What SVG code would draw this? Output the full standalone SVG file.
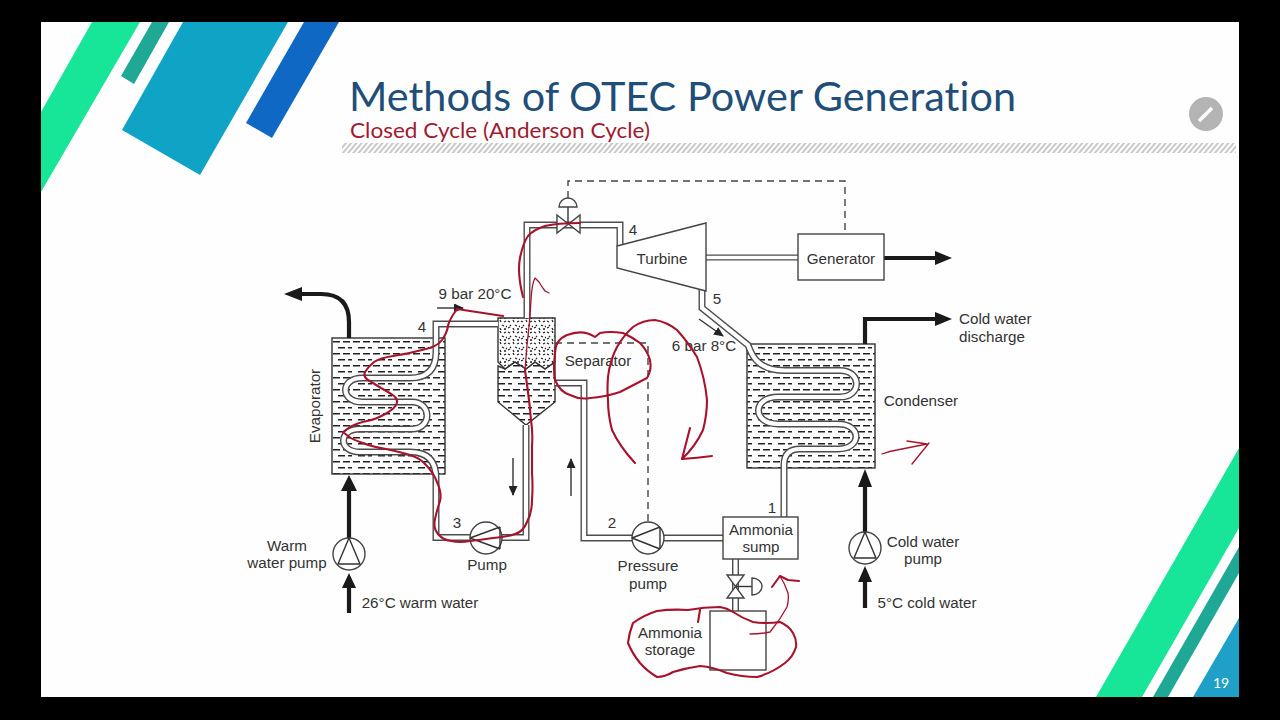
<svg xmlns="http://www.w3.org/2000/svg" width="1280" height="720" viewBox="0 0 1280 720">
<style>
text{font-family:"Liberation Sans",Arial,sans-serif;font-size:15.2px;fill:#333;text-anchor:middle;dominant-baseline:central}
.l{text-anchor:start}
.box{fill:#fff;stroke:#444;stroke-width:1.4}
.line{fill:none;stroke:#333;stroke-width:1.4}
.tank{fill:url(#water);stroke:#333;stroke-width:1.4}
.po{fill:none;stroke:#4d4d4d;stroke-width:7}
.pi{fill:none;stroke:#fff;stroke-width:4.2}
.thick{fill:none;stroke:#1a1a1a;stroke-width:4.2}
.head{fill:#1a1a1a;stroke:none}
.dash{fill:none;stroke:#444;stroke-width:1.4;stroke-dasharray:7 5}
.red{fill:none;stroke:#a8132c;stroke-width:2.1;stroke-linecap:round;stroke-linejoin:round}
.thin{stroke-width:1.3}
.ttl{dominant-baseline:alphabetic;font-family:Lato,'Open Sans',sans-serif;font-variant-ligatures:none}
</style>
<defs>
<pattern id="water" width="20" height="12" patternUnits="userSpaceOnUse" x="332" y="341">
<path d="M1 0.7h7M11 0.7h7M-4 6.7h3M6 6.7h7M16 6.7h7" stroke="#222" stroke-width="1.5" fill="none"/>
</pattern>
<pattern id="stipple" width="13" height="11" patternUnits="userSpaceOnUse">
<path d="M1 2l2 1M6 1l1 2M10 3l2-1M3 6l1 1M8 6l2 1M12 7l1 1M1 9l2-1M6 9l1 2M10 10l2 0" stroke="#222" stroke-width="1.3" fill="none"/>
</pattern>
<pattern id="hatch" width="4" height="4" patternUnits="userSpaceOnUse" patternTransform="rotate(40)">
<rect width="2" height="4" fill="#c9c9c9"/>
</pattern>
<marker id="ah" markerWidth="10" markerHeight="9" refX="9" refY="4.500" orient="auto" markerUnits="userSpaceOnUse"><path d="M0 0L10 4.500L0 9z" fill="#222"/></marker>
<path id="p-evap" d="M498 324H436V352Q436 378 410 378H362C340 378 340 402 362 402H412C432 402 432 429 412 429H360C338 429 338 452 360 452H410Q436 452 436 478V537.500H470"/>
<path id="p-sep-pump" d="M502 537.500H526V425"/>
<path id="p-sep-turb" d="M527 318V225H620V246"/>
<path id="p-turb-cond" d="M702 290V308L748 345C751 352 755 370.500 785 370.500H840C862 370.500 862 397 840 397H778C752 397 752 424 778 424H838C862 424 862 449 838 449H800Q784 449 784 465V517"/>
<path id="p-sep-press" d="M555 383H584V538H632"/>
<path id="p-press-sump" d="M664 538H723"/>
<path id="p-sump-stor" d="M735.500 559V611"/>
<path id="p-shaft" d="M706 257.500H798"/>
</defs>

<rect width="1280" height="720" fill="#000"/>
<rect x="41" y="22" width="1198" height="675" fill="#fefefe"/>

<g id="decor">
<polygon points="92,22 140,22 41,192 41,112" fill="#17e597"/>
<polygon points="152,22 169,22 134,84 121,76" fill="#1fa896"/>
<polygon points="183,22 288,22 200,175 122,130" fill="#0fa4c6"/>
<polygon points="304,22 339,22 272,138 246,123" fill="#0f68c4"/>
<polygon points="1239,448 1239,528 1142,697 1096,697" fill="#17e597"/>
<polygon points="1239,547 1239,573 1168,697 1153,697" fill="#1fa896"/>
<polygon points="1239,618 1239,697 1193,697" fill="#1fa0c8"/>
<text x="1221" y="682" style="fill:#fff;font-family:Lato,sans-serif;font-size:14px">19</text>
<rect x="342" y="143" width="894" height="10" fill="url(#hatch)"/>
<circle cx="1206" cy="114" r="17" fill="#b4b4b4"/>
<path d="M1199 121L1212 108" stroke="#fff" stroke-width="3.500" fill="none"/>
</g>

<g id="title">
<text x="349" y="111" class="l ttl" textLength="667" lengthAdjust="spacingAndGlyphs" style="font-size:40px;fill:#1f4e79">Methods of OTEC Power Generation</text>
<text x="350" y="138" class="l ttl" textLength="300" lengthAdjust="spacingAndGlyphs" style="font-size:21.500px;fill:#a01a30">Closed Cycle (Anderson Cycle)</text>
</g>

<g id="evaporator"><rect class="tank" x="332" y="338" width="113" height="136"/>
<text transform="translate(314 406) rotate(-90)">Evaporator</text></g>
<g id="condenser"><rect class="tank" x="747" y="344" width="128" height="124"/>
<text x="921" y="400">Condenser</text></g>
<g id="separator">
<polygon points="498,366 505,369 515,362 526,369 535,362 545,369 555,362 555,402 526,425 498,402" class="tank"/>
<polygon points="498,318 555,318 555,362 545,369 535,362 526,369 515,362 505,369 498,362" fill="url(#stipple)" stroke="#333" stroke-width="1.4"/>
<text x="598" y="360">Separator</text></g>

<g id="connectors">
<use href="#p-evap" class="po"/><use href="#p-evap" class="pi"/>
<use href="#p-sep-pump" class="po"/><use href="#p-sep-pump" class="pi"/>
<use href="#p-sep-turb" class="po"/><use href="#p-sep-turb" class="pi"/>
<use href="#p-turb-cond" class="po"/><use href="#p-turb-cond" class="pi"/>
<use href="#p-sep-press" class="po"/><use href="#p-sep-press" class="pi"/>
<use href="#p-press-sump" class="po"/><use href="#p-press-sump" class="pi"/>
<use href="#p-sump-stor" class="po"/><use href="#p-sump-stor" class="pi"/>
<use href="#p-shaft" class="po" style="stroke-width:6"/><use href="#p-shaft" class="pi" style="stroke-width:3.500"/>
<path class="dash" d="M568 198V181H845V234"/>
<path class="dash" d="M555 343H648V522"/>
<path class="thick" d="M884 258H936"/><polygon class="head" points="952,258 935,251 935,265"/>
<path class="thick" d="M865 344V319H936"/><polygon class="head" points="952,319 935,312 935,326"/>
<path class="thick" d="M349 338V322Q349 294 321 294H300"/><polygon class="head" points="284,294 302,287 302,301"/>
<path class="thick" d="M349 613V585"/><polygon class="head" points="349,573 342,588 356,588"/>
<path class="thick" d="M349 538V488"/><polygon class="head" points="349,475 341,491 357,491"/>
<path class="thick" d="M865 608V580"/><polygon class="head" points="865,566 858,582 872,582"/>
<path class="thick" d="M865 532V485"/><polygon class="head" points="865,469 858,487 872,487"/>
<path class="line" marker-end="url(#ah)" d="M437 308H463"/>
<path class="line" marker-end="url(#ah)" d="M699 319L723 336"/>
<path class="line" marker-end="url(#ah)" d="M513 458V495"/>
<path class="line" marker-end="url(#ah)" d="M571 496V459"/>
</g>

<g id="valve-top">
<path class="box" d="M557 215L580 233V215L557 233Z"/>
<path class="line" d="M568 224V207"/>
<path class="box" d="M559 207A9 9 0 0 1 577 207Z"/>
</g>
<g id="turbine">
<polygon class="box" points="617,246 706,223 706,291 617,268"/>
<text x="662" y="258">Turbine</text>
</g>
<g id="generator"><rect class="box" x="798" y="234" width="86" height="46"/><text x="841" y="258">Generator</text></g>
<g id="pump">
<circle class="box" cx="486" cy="538" r="16"/>
<path class="line" d="M470 538L500 527M470 538L500 549M500 527V549"/>
<text x="487" y="564">Pump</text>
</g>
<g id="pressure-pump">
<circle class="box" cx="648" cy="538" r="16"/>
<path class="line" d="M632 538L660 527M632 538L660 549M660 527V549"/>
<text x="648" y="565">Pressure</text><text x="648" y="583">pump</text>
</g>
<g id="warm-pump">
<circle class="box" cx="349" cy="554" r="16"/>
<path class="line" d="M349 538L338 564M349 538L360 564M338 564H360"/>
<text x="287" y="545">Warm</text><text x="287" y="562">water pump</text>
</g>
<g id="cold-pump">
<circle class="box" cx="865" cy="548" r="16"/>
<path class="line" d="M865 532L854 558M865 532L876 558M854 558H876"/>
<text x="923" y="541">Cold water</text><text x="923" y="558">pump</text>
</g>
<g id="sump"><rect class="box" x="723" y="517" width="75" height="42"/>
<text x="761" y="529">Ammonia</text><text x="761" y="546">sump</text></g>
<g id="valve-bottom">
<path class="box" d="M727 575H744L727 598H744Z"/>
<path class="line" d="M736 586.500H752"/>
<path class="box" d="M752 578A10 8.500 0 0 1 752 595Z"/>
</g>
<g id="storage"><rect class="box" x="710" y="611" width="56" height="59"/>
<text x="670" y="632">Ammonia</text><text x="670" y="649">storage</text></g>

<g id="labels">
<text x="422" y="326">4</text><text x="633" y="229">4</text><text x="717" y="298">5</text>
<text x="457" y="522">3</text><text x="612" y="522">2</text><text x="772" y="507">1</text>
<text x="475" y="293">9 bar 20°C</text>
<text x="704" y="345">6 bar 8°C</text>
<text x="420" y="602">26°C warm water</text>
<text x="927" y="602">5°C cold water</text>
<text x="959" y="318" class="l">Cold water</text>
<text x="959" y="336" class="l">discharge</text>
</g>

<g id="annotations">
<path class="red" d="M503 316L470 311L457 309Q449 320 448 326Q447 333 442 340Q437 347 422 350Q407 354 393 356Q380 358 374 362Q368 367 365 372Q363 377 368 380Q373 383 381 388Q390 393 394 396Q399 400 396 405Q393 410 385 414Q377 419 367 421Q357 423 350 427L343 432L348 436Q353 440 363 443Q373 447 386 449Q400 452 410 455Q420 458 426 465Q433 472 437 482Q442 493 440 501Q437 510 435 519Q433 528 438 534Q443 540 451 541Q460 543 470 541Q480 540 493 538Q507 537 515 534Q523 532 527 522Q532 513 532 500Q533 487 532 473Q532 460 532 446Q533 433 531 420Q530 407 528 392L525 370"/>
<path class="red thin" d="M525 370L527 345Q530 320 531 300Q532 283 535 278L539 282Q542 287 545 291L549 293"/>
<path class="red" d="M523 297Q517 273 520 258Q523 243 528 236Q533 230 545 226Q557 223 580 223"/>
<path class="red" d="M595 337Q583 329 567 335Q555 340 555 353Q553 370 555 380Q560 392 570 395Q580 400 590 398Q605 397 620 392L647 378Q652 370 650 360Q647 350 640 343Q632 337 623 333Q610 331 600 333Z"/>
<path class="red" d="M635 463Q620 447 612 430Q608 415 608 400Q607 390 608 377Q610 360 617 347Q624 335 633 327Q643 320 655 320Q667 322 677 330Q688 342 697 357Q705 378 707 400Q707 415 703 430Q695 447 682 459"/>
<path class="red" d="M690 428L682 459Q697 458 712 456"/>
<path class="red" d="M698 622L700 610M688 610Q704 607 720 607Q727 608 733 612Q742 618 753 622Q767 624 780 622Q789 626 793 633Q797 640 796 647Q793 657 785 663Q772 673 757 677Q742 677 727 673Q713 667 700 666Q686 668 673 672Q665 677 657 677Q647 671 640 663Q632 653 628 643Q629 633 633 623Q644 615 657 611Q672 609 688 610"/>
<path class="red thin" d="M750 634Q760 634 770 632Q780 620 787 607Q789 600 788 593Q785 584 780 576"/>
<path class="red" d="M772 587L780 576L788 580L799 581"/>
<path class="red thin" d="M882 454Q890 451 897 450Q912 447 927 444L907 441M929 443L912 464"/>
</g>
</svg>
